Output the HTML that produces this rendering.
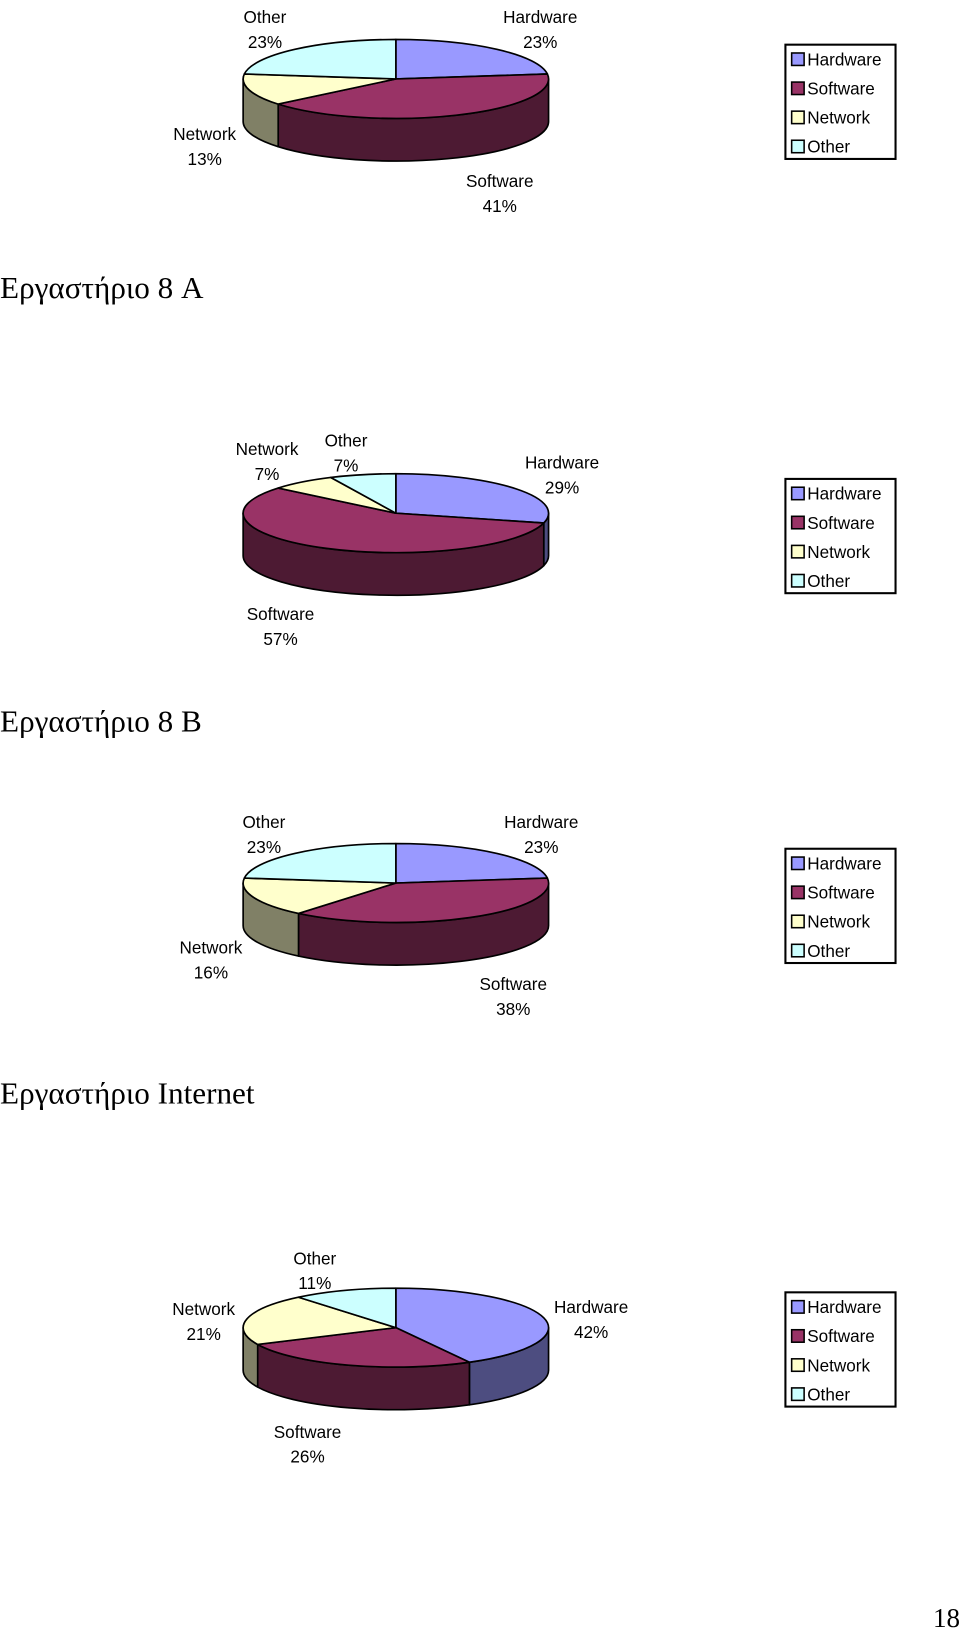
<!DOCTYPE html>
<html><head><meta charset="utf-8"><style>
html,body{margin:0;padding:0;background:#fff;}
svg{display:block;}
text{font-family:"Liberation Sans",Arial,sans-serif;}
</style></head><body>
<svg id="s" width="960" height="1631" viewBox="0 0 924 1570" xmlns="http://www.w3.org/2000/svg">
<g id="root"></g>
<text x="0" y="287" font-family="Liberation Serif,serif" style="font-family:'Liberation Serif','DejaVu Serif',serif" font-size="30">Εργαστήριο 8 A</text>
<text x="0" y="704" style="font-family:'Liberation Serif','DejaVu Serif',serif" font-size="30">Εργαστήριο 8 B</text>
<text x="0" y="1062" style="font-family:'Liberation Serif','DejaVu Serif',serif" font-size="30">Εργαστήριο Internet</text>
<text x="924" y="1566" text-anchor="end" style="font-family:'Liberation Serif','DejaVu Serif',serif" font-size="26">18</text>
</svg>
<script>
const categories = ["Hardware","Software","Network","Other"];
const valuesLab8A = [23,41,13,23];
const valuesLab8B = [29,57,7,7];
const valuesInternet = [23,38,16,23];
const valuesChart4 = [42,26,21,11];

const topColors = ["#9999FF","#993366","#FFFFCC","#CCFFFF"];
const sideColors = ["#4D4D80","#4D1A33","#808066","#668080"];
const NS = "http://www.w3.org/2000/svg";
const root = document.getElementById('root');

function mk(tag, attrs, parent){
  const e = document.createElementNS(NS, tag);
  for (const k in attrs) e.setAttribute(k, attrs[k]);
  parent.appendChild(e);
  return e;
}

const charts = [
  {name:"lab-8a", vals:valuesLab8A, cy:76, legendY:43,
   labels:[[520,8],[481,166],[197,121],[255,8]]},
  {name:"lab-8b", vals:valuesLab8B, cy:494, legendY:461,
   labels:[[541,437],[270,583],[257,424],[333,416]]},
  {name:"lab-internet", vals:valuesInternet, cy:850, legendY:817,
   labels:[[521,783],[494,939],[203,904],[254,783]]},
  {name:"lab-4", vals:valuesChart4, cy:1278, legendY:1244,
   labels:[[569,1250],[296,1370],[196,1252],[303,1203]]}
];

const cx = 381, rx = 147, ry = 38, depth = 41;

charts.forEach(function(c){
  const g = mk('g', {}, root);
  
  
  const total = c.vals.reduce((a,b)=>a+b,0);
  const angles = [];
  let acc = 0;
  c.vals.forEach(function(v){ const a1 = acc/total*360; acc += v; angles.push([a1, acc/total*360]); });
  function pt(deg, dy){ const r = deg*Math.PI/180; return [cx + rx*Math.sin(r), c.cy - ry*Math.cos(r) + (dy||0)]; }
  // sides
  angles.forEach(function(a, i){
    const s = Math.max(a[0], 90), e = Math.min(a[1], 270);
    if (e <= s) return;
    const p1 = pt(s), p2 = pt(e), p3 = pt(e, depth), p4 = pt(s, depth);
    const d = `M${p1[0]},${p1[1]} A${rx},${ry} 0 0 1 ${p2[0]},${p2[1]} L${p3[0]},${p3[1]} A${rx},${ry} 0 0 0 ${p4[0]},${p4[1]} Z`;
    const p = mk('path', {d:d, fill:sideColors[i], stroke:"#000", "stroke-width":1.6, "stroke-linejoin":"round"}, g);
    
    
  });
  // tops
  angles.forEach(function(a, i){
    const p1 = pt(a[0]), p2 = pt(a[1]);
    const large = (a[1]-a[0]) > 180 ? 1 : 0;
    const d = `M${cx},${c.cy} L${p1[0]},${p1[1]} A${rx},${ry} 0 ${large} 1 ${p2[0]},${p2[1]} Z`;
    const p = mk('path', {d:d, fill:topColors[i], stroke:"#000", "stroke-width":1.6, "stroke-linejoin":"round"}, g);
    
    
  });
  // labels
  c.vals.forEach(function(v, i){
    const pos = c.labels[i];
    const t1 = mk('text', {x:pos[0], y:pos[1]+14, "text-anchor":"middle", "font-size":16.5}, g);
    t1.textContent = categories[i];
    
    
    const t2 = mk('text', {x:pos[0], y:pos[1]+38, "text-anchor":"middle", "font-size":16.5}, g);
    t2.textContent = Math.round(v/total*100) + "%";
    
    
  });
  // legend
  const lg = mk('g', {}, g);
  
  
  mk('rect', {x:756, y:c.legendY, width:106, height:110, fill:"#fff", stroke:"#000", "stroke-width":2}, lg);
  categories.forEach(function(cat, i){
    const y = c.legendY + 14 + i*28;
    const r = mk('rect', {x:762, y:y-6, width:12, height:12, fill:topColors[i], stroke:"#000", "stroke-width":1.5}, lg);
    
    
    const t = mk('text', {x:777, y:y+6, "font-size":16.5}, lg);
    t.textContent = cat;
    
    
  });
});
</script>
</body></html>
